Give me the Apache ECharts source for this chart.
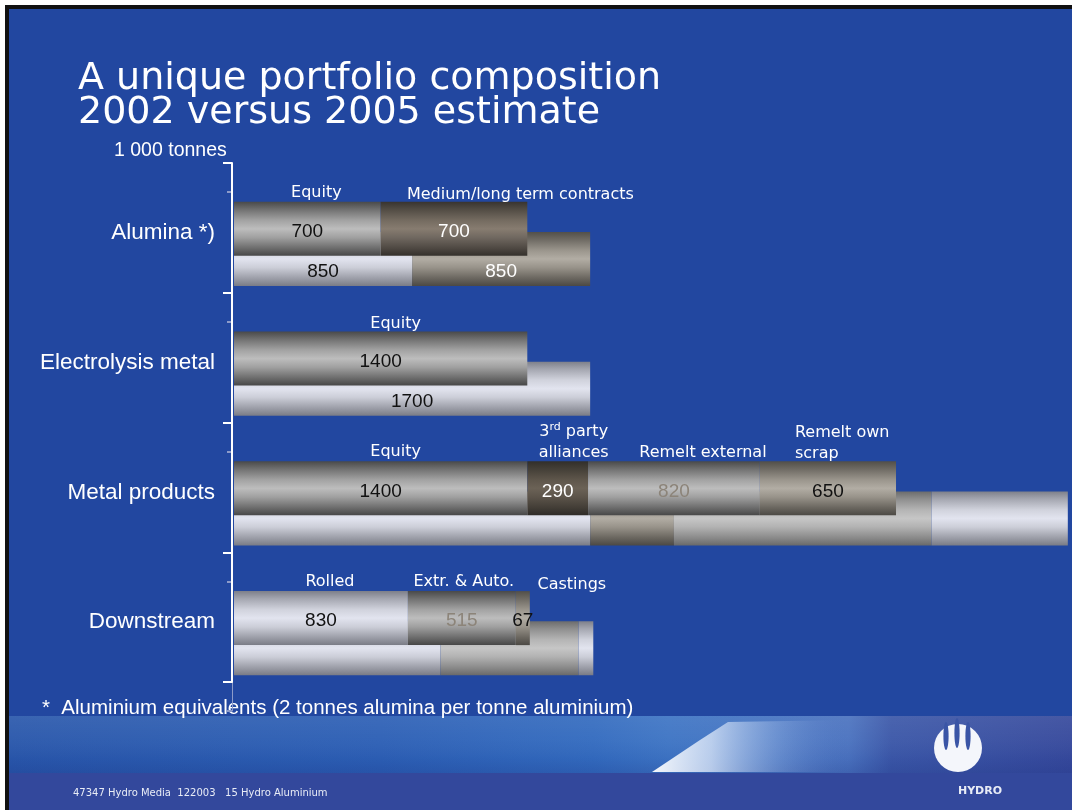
<!DOCTYPE html>
<html>
<head>
<meta charset="utf-8">
<title>A unique portfolio composition</title>
<script src="https://cdn.jsdelivr.net/npm/echarts@6/dist/echarts.min.js"></script>
<style>
html, body { margin: 0; padding: 0; background: #fff; }
#chart { width: 1072px; height: 810px; }
</style>
</head>
<body>
<div id="chart"></div>
<script>
var categories = ['Alumina *)', 'Electrolysis metal', 'Metal products', 'Downstream'];

// 2002, 1 000 tonnes, segments counted from the axis outwards
var y2002Seg1 = [700, 1400, 1400, 830];
var y2002Seg2 = [700, null, 290, 515];
var y2002Seg3 = [null, null, 820, 67];
var y2002Seg4 = [null, null, 650, null];

// 2005 estimate
var y2005Seg1 = [850, 1700, 1700, 985];
var y2005Seg2 = [850, null, 400, 660];
var y2005Seg3 = [null, null, 1230, 70];
var y2005Seg4 = [null, null, 650, null];

// segment names over the 2002 bars
var headAlumina = ['Equity', 'Medium/long term contracts'];
var headElectrolysis = ['Equity'];
var headMetal = ['Equity', '{n|3}{sup|rd}{n| party}\n{n|alliances}', 'Remelt external', '{n|Remelt own}\n{n|scrap}'];
var headDownstream = ['Rolled', 'Extr. & Auto.', 'Castings'];

var y2002 = [y2002Seg1, y2002Seg2, y2002Seg3, y2002Seg4];
var y2005 = [y2005Seg1, y2005Seg2, y2005Seg3, y2005Seg4];

// metal look of each segment (cylinder shading, top -> bottom)
var looks = {
  grey:      ['#4a4a4a', '#707070', '#a2a2a2', '#bdbdbd', '#a0a0a0', '#6c6c6c', '#474747'],
  greyLight: ['#6c6c6c', '#8e8e8e', '#b4b4b4', '#c6c6c6', '#b2b2b2', '#8a8a8a', '#6a6a6a'],
  pale:      ['#7e808a', '#a4a6b0', '#d0d2dc', '#e2e4ef', '#ccced8', '#9c9ea8', '#7a7c86'],
  brown:     ['#383430', '#524c44', '#746b60', '#877c70', '#706860', '#4e4842', '#34302b'],
  brownDark: ['#322f2a', '#443f37', '#5e564b', '#6b6256', '#5c544a', '#423d36', '#2e2b27'],
  taupe:     ['#524f49', '#6e6a63', '#9a958c', '#b2ada4', '#98938a', '#6a665f', '#4c4944']
};
var shadeStops = [0, 0.14, 0.34, 0.5, 0.66, 0.86, 1];

var look2002 = [
  ['grey', 'grey', 'grey', 'pale'],
  ['brown', null, 'brownDark', 'grey'],
  [null, null, 'grey', 'taupe'],
  [null, null, 'taupe', null]
];
var ink2002 = [
  ['#111', '#111', '#111', '#111'],
  ['#fff', null, '#fff', '#8c8479'],
  [null, null, '#8c8479', '#111'],
  [null, null, '#111', null]
];
var look2005 = [
  ['pale', 'pale', 'pale', 'pale'],
  ['taupe', null, 'taupe', 'greyLight'],
  [null, null, 'greyLight', 'pale'],
  [null, null, 'pale', null]
];
var ink2005 = [
  ['#111', '#111', null, null],
  ['#fff', null, null, null],
  [null, null, null, null],
  [null, null, null, null]
];

// where the segment names sit: [category, segment, dx, dy, align, text]
var headLayout = [
  [0, 0, 9, -51, 'center', headAlumina[0]],
  [0, 1, -47, -49, 'left', headAlumina[1]],
  [1, 0, 15, -50, 'center', headElectrolysis[0]],
  [2, 0, 15, -52, 'center', headMetal[0]],
  [2, 1, 16, -61, 'center', headMetal[1]],
  [2, 2, 29, -51, 'center', headMetal[2]],
  [2, 3, -33, -60, 'left', headMetal[3]],
  [3, 0, 9, -51, 'center', headDownstream[0]],
  [3, 1, 2, -51, 'center', headDownstream[1]],
  [3, 2, 49, -48, 'center', headDownstream[2]]
];

function paint(key) {
  var c = looks[key];
  return new echarts.graphic.LinearGradient(0, 0, 0, 1, shadeStops.map(function (o, i) {
    return { offset: o, color: c[i] };
  }));
}

function makeSeries(name, values, look, ink, stack, z, labelDy) {
  return {
    name: name,
    type: 'bar',
    xAxisIndex: 1,
    yAxisIndex: 1,
    stack: stack,
    z: z,
    barWidth: 54,
    barGap: '-44.4%',
    silent: true,
    label: {
      show: true,
      position: 'inside',
      offset: [0, labelDy],
      fontFamily: 'Liberation Sans',
      fontSize: 19,
      textBorderWidth: 0,
      formatter: '{c}'
    },
    data: values.map(function (v, i) {
      if (v == null) return '-';
      return {
        value: v,
        itemStyle: { color: paint(look[i]) },
        label: ink[i] ? { color: ink[i] } : { show: false }
      };
    })
  };
}

var series = [];
y2002.forEach(function (vals, s) {
  series.push(makeSeries('2002', vals, look2002[s], ink2002[s], 'y2002', 4, 3));
});
y2005.forEach(function (vals, s) {
  series.push(makeSeries('2005', vals, look2005[s], ink2005[s], 'y2005', 3, 13));
});

var option = {
  backgroundColor: '#fff',
  animation: false,
  grid: [
    { left: 232, right: 0, top: 163, bottom: 128 },   // labelled axis
    { left: 234, right: 0, top: 179, bottom: 112 },   // bars
    { left: 232, right: 0, top: 192, bottom: 99 }     // faint second axis
  ],
  xAxis: [
    { gridIndex: 0, type: 'value', show: false },
    { gridIndex: 1, type: 'value', show: false, min: 0, max: 4000 },
    { gridIndex: 2, type: 'value', show: false }
  ],
  yAxis: [
    {
      gridIndex: 0, type: 'category', inverse: true, data: categories, z: 3,
      axisLine: { show: true, lineStyle: { color: '#fff', width: 2 } },
      axisTick: { show: true, alignWithLabel: false, length: 9, lineStyle: { color: '#fff', width: 2 } },
      axisLabel: { color: '#fff', fontFamily: 'Liberation Sans', fontSize: 22.5, margin: 17, verticalAlign: 'top', lineHeight: 10 }
    },
    { gridIndex: 1, type: 'category', inverse: true, data: categories, show: false },
    {
      gridIndex: 2, type: 'category', inverse: true, data: categories, z: 1,
      axisLine: { show: true, lineStyle: { color: '#8d9bc9', width: 1 } },
      axisTick: { show: true, alignWithLabel: false, length: 5, lineStyle: { color: '#8d9bc9', width: 2 } },
      axisLabel: { show: false }
    }
  ],
  series: series
};

var chart = echarts.init(document.getElementById('chart'));
chart.setOption(option);

var graphics = [
  { type: 'rect', z: -20, shape: { x: 5, y: 5, width: 1067, height: 805 }, style: { fill: '#111' } },
  { type: 'rect', z: -19, shape: { x: 9, y: 9, width: 1063, height: 801 }, style: { fill: '#2247a0' } },
  { type: 'rect', z: -18, shape: { x: 9, y: 772, width: 1063, height: 38 }, style: { fill: '#33489c' } },
  {
    type: 'rect', z: -18, shape: { x: 9, y: 716, width: 1063, height: 57 },
    style: {
      fill: new echarts.graphic.LinearGradient(0, 0, 1, 0, [
        { offset: 0, color: '#2957ab' },
        { offset: 0.35, color: '#2c5fb5' },
        { offset: 0.55, color: '#336bbf' },
        { offset: 0.62, color: '#3d74c4' },
        { offset: 0.79, color: '#4a72bf' },
        { offset: 0.83, color: '#3b57a8' },
        { offset: 1, color: '#36499c' }
      ])
    }
  },
  {
    type: 'rect', z: -17, shape: { x: 9, y: 716, width: 1063, height: 57 },
    style: {
      fill: new echarts.graphic.LinearGradient(0, 0, 0, 1, [
        { offset: 0, color: 'rgba(255,255,255,0.08)' },
        { offset: 0.4, color: 'rgba(255,255,255,0.04)' },
        { offset: 0.75, color: 'rgba(20,40,120,0.05)' },
        { offset: 1, color: 'rgba(20,40,120,0.2)' }
      ])
    }
  },
  {
    type: 'polygon', z: -16,
    shape: { points: [[652, 772], [700, 740], [728, 722], [850, 720], [850, 772]] },
    style: {
      fill: new echarts.graphic.LinearGradient(0, 0, 1, 0, [
        { offset: 0, color: 'rgba(255,255,255,0.95)' },
        { offset: 0.3, color: 'rgba(225,235,250,0.75)' },
        { offset: 0.65, color: 'rgba(170,195,235,0.3)' },
        { offset: 1, color: 'rgba(90,120,195,0)' }
      ])
    }
  },
  // Hydro logo
  { type: 'circle', z: -15, shape: { cx: 958, cy: 748, r: 24 }, style: { fill: '#f4f6fb' } },
  { type: 'ellipse', z: -14, shape: { cx: 946, cy: 736, rx: 2.6, ry: 14 }, style: { fill: '#3a55a6' } },
  { type: 'ellipse', z: -14, shape: { cx: 957, cy: 733, rx: 2.6, ry: 15 }, style: { fill: '#3a55a6' } },
  { type: 'ellipse', z: -14, shape: { cx: 968, cy: 736, rx: 2.6, ry: 14 }, style: { fill: '#3a55a6' } },
  { type: 'text', x: 980, y: 791, style: { text: 'HYDRO', fill: '#e8ecf6', font: 'bold 11px DejaVu Sans', align: 'center', verticalAlign: 'middle' } },
  // texts
  { type: 'text', x: 78, y: 79, style: { text: 'A unique portfolio composition', fill: '#fff', font: '38px DejaVu Sans', verticalAlign: 'middle' } },
  { type: 'text', x: 78, y: 113, style: { text: '2002 versus 2005 estimate', fill: '#fff', font: '38px DejaVu Sans', verticalAlign: 'middle' } },
  { type: 'text', x: 114, y: 151, style: { text: '1 000 tonnes', fill: '#fff', font: '19.5px Liberation Sans', verticalAlign: 'middle' } },
  { type: 'text', x: 42, y: 708, style: { text: '*  Aluminium equivalents (2 tonnes alumina per tonne aluminium)', fill: '#fff', font: '20.5px Liberation Sans', verticalAlign: 'middle' } },
  { type: 'text', x: 73, y: 793, style: { text: '47347 Hydro Media  122003   15 Hydro Aluminium', fill: '#e8ecf6', font: '10px DejaVu Sans', verticalAlign: 'middle' } }
];

headLayout.forEach(function (h) {
  var cat = h[0], seg = h[1];
  var start = 0;
  for (var k = 0; k < seg; k++) start += y2002[k][cat] || 0;
  var mid = start + y2002[seg][cat] / 2;
  var p = chart.convertToPixel({ xAxisIndex: 1, yAxisIndex: 1 }, [mid, cat]);
  graphics.push({
    type: 'text', x: p[0] + h[2], y: p[1] + h[3], z: 10,
    style: {
      text: h[5], fill: '#fff', font: '16px DejaVu Sans',
      align: h[4], verticalAlign: 'middle', lineHeight: 21,
      rich: {
        n: { fill: '#fff', fontSize: 16, fontFamily: 'DejaVu Sans', lineHeight: 21 },
        sup: { fill: '#fff', fontSize: 11, fontFamily: 'DejaVu Sans', lineHeight: 21, verticalAlign: 'top' }
      }
    }
  });
});

chart.setOption({ graphic: graphics });
</script>
</body>
</html>
